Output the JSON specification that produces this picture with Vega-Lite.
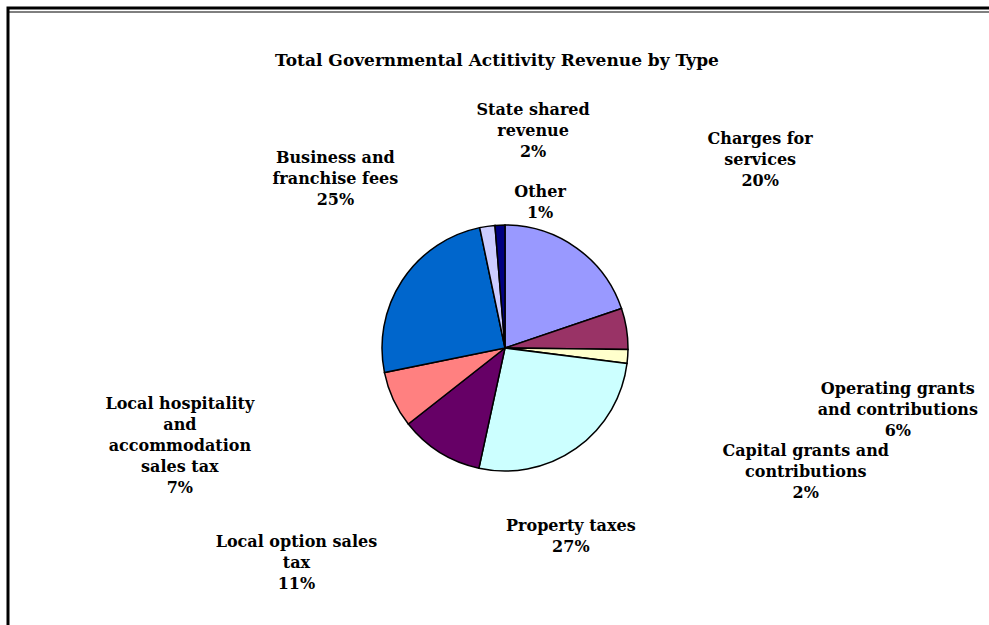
{
  "$schema": "https://vega.github.io/schema/vega-lite/v6.json",
  "width": 994,
  "height": 680,
  "autosize": {"type": "none"},
  "padding": {"left": 8, "top": 8, "right": -13, "bottom": -63},
  "background": "white",
  "view": {"stroke": "black", "strokeWidth": 3},
  "title": {
    "text": "Total Governmental  Actitivity Revenue by Type",
    "anchor": "middle",
    "frame": "group",
    "offset": -107,
    "dx": -8,
    "dy": 15,
    "font": "DejaVu Serif",
    "fontSize": 17,
    "fontWeight": "bold",
    "color": "black"
  },
  "resolve": {"scale": {"theta": "independent"}},
  "datasets": {
    "revenue": [
      {"order": 1, "category": "Charges for services", "value": 19.8, "label": ["Charges for", "services", "20%"]},
      {"order": 2, "category": "Operating grants and contributions", "value": 5.4, "label": ["Operating grants", "and contributions", "6%"]},
      {"order": 3, "category": "Capital grants and contributions", "value": 1.8, "label": ["Capital grants and", "contributions", "2%"]},
      {"order": 4, "category": "Property taxes", "value": 26.4, "label": ["Property taxes", "27%"]},
      {"order": 5, "category": "Local option sales tax", "value": 11.0, "label": ["Local option sales", "tax", "11%"]},
      {"order": 6, "category": "Local hospitality and accommodation sales tax", "value": 7.4, "label": ["Local hospitality", "and", "accommodation", "sales tax", "7%"]},
      {"order": 7, "category": "Business and franchise fees", "value": 24.9, "label": ["Business and", "franchise fees", "25%"]},
      {"order": 8, "category": "State shared revenue", "value": 2.0, "label": ["State shared", "revenue", "2%"]},
      {"order": 9, "category": "Other", "value": 1.3, "label": ["Other", "1%"]}
    ]
  },
  "layer": [
    {
      "data": {"values": [{}]},
      "mark": {"type": "rect", "fill": "transparent", "stroke": "black", "strokeWidth": 1, "xOffset": 4, "yOffset": 4, "x2Offset": -4, "y2Offset": -4},
      "encoding": {}
    },
    {
      "data": {"name": "revenue"},
      "mark": {"type": "arc", "radius": 123, "stroke": "black", "strokeWidth": 1.5},
      "encoding": {
        "theta": {"field": "value", "type": "quantitative", "stack": true},
        "order": {"field": "order", "type": "quantitative"},
        "color": {
          "field": "category",
          "type": "nominal",
          "legend": null,
          "scale": {
            "domain": ["Charges for services", "Operating grants and contributions", "Capital grants and contributions", "Property taxes", "Local option sales tax", "Local hospitality and accommodation sales tax", "Business and franchise fees", "State shared revenue", "Other"],
            "range": ["#9999FF", "#993366", "#FFFFCC", "#CCFFFF", "#660066", "#FF8080", "#0066CC", "#CCCCFF", "#000080"]
          }
        }
      }
    },
    {
      "data": {"name": "revenue"},
      "mark": {"type": "text", "radius": 330, "font": "DejaVu Serif", "fontSize": 16, "fontWeight": "bold", "lineHeight": 21, "align": "center", "baseline": "middle", "color": "black"},
      "encoding": {
        "theta": {"field": "value", "type": "quantitative", "stack": true, "scale": {"range": [0.2618, 6.5450]}},
        "order": {"field": "order", "type": "quantitative"},
        "text": {"condition": {"test": "indexof(['Charges for services', 'Local hospitality and accommodation sales tax'], datum.category) >= 0", "field": "label"}, "value": ""}
      }
    },
    {
      "data": {"name": "revenue"},
      "mark": {"type": "text", "radius": 395, "font": "DejaVu Serif", "fontSize": 16, "fontWeight": "bold", "lineHeight": 21, "align": "center", "baseline": "middle", "color": "black"},
      "encoding": {
        "theta": {"field": "value", "type": "quantitative", "stack": true, "scale": {"range": [0.2618, 6.5450]}},
        "order": {"field": "order", "type": "quantitative"},
        "text": {"condition": {"test": "datum.category === 'Operating grants and contributions'", "field": "label"}, "value": ""}
      }
    },
    {
      "data": {"name": "revenue"},
      "mark": {"type": "text", "radius": 318, "font": "DejaVu Serif", "fontSize": 16, "fontWeight": "bold", "lineHeight": 21, "align": "center", "baseline": "middle", "color": "black"},
      "encoding": {
        "theta": {"field": "value", "type": "quantitative", "stack": true, "scale": {"range": [0.2618, 6.5450]}},
        "order": {"field": "order", "type": "quantitative"},
        "text": {"condition": {"test": "datum.category === 'Capital grants and contributions'", "field": "label"}, "value": ""}
      }
    },
    {
      "data": {"name": "revenue"},
      "mark": {"type": "text", "radius": 190, "font": "DejaVu Serif", "fontSize": 16, "fontWeight": "bold", "lineHeight": 21, "align": "center", "baseline": "middle", "color": "black"},
      "encoding": {
        "theta": {"field": "value", "type": "quantitative", "stack": true, "scale": {"range": [0.2618, 6.5450]}},
        "order": {"field": "order", "type": "quantitative"},
        "text": {"condition": {"test": "datum.category === 'Property taxes'", "field": "label"}, "value": ""}
      }
    },
    {
      "data": {"name": "revenue"},
      "mark": {"type": "text", "radius": 285, "font": "DejaVu Serif", "fontSize": 16, "fontWeight": "bold", "lineHeight": 21, "align": "center", "baseline": "middle", "color": "black"},
      "encoding": {
        "theta": {"field": "value", "type": "quantitative", "stack": true, "scale": {"range": [0.2618, 6.5450]}},
        "order": {"field": "order", "type": "quantitative"},
        "text": {"condition": {"test": "datum.category === 'Local option sales tax'", "field": "label"}, "value": ""}
      }
    },
    {
      "data": {"name": "revenue"},
      "mark": {"type": "text", "radius": 255, "font": "DejaVu Serif", "fontSize": 16, "fontWeight": "bold", "lineHeight": 21, "align": "center", "baseline": "middle", "color": "black"},
      "encoding": {
        "theta": {"field": "value", "type": "quantitative", "stack": true, "scale": {"range": [0.2618, 6.5450]}},
        "order": {"field": "order", "type": "quantitative"},
        "text": {"condition": {"test": "datum.category === 'Business and franchise fees'", "field": "label"}, "value": ""}
      }
    },
    {
      "data": {"name": "revenue"},
      "mark": {"type": "text", "radius": 240, "font": "DejaVu Serif", "fontSize": 16, "fontWeight": "bold", "lineHeight": 21, "align": "center", "baseline": "middle", "color": "black"},
      "encoding": {
        "theta": {"field": "value", "type": "quantitative", "stack": true, "scale": {"range": [0.2618, 6.5450]}},
        "order": {"field": "order", "type": "quantitative"},
        "text": {"condition": {"test": "datum.category === 'State shared revenue'", "field": "label"}, "value": ""}
      }
    },
    {
      "data": {"name": "revenue"},
      "mark": {"type": "text", "radius": 160, "font": "DejaVu Serif", "fontSize": 16, "fontWeight": "bold", "lineHeight": 21, "align": "center", "baseline": "middle", "color": "black"},
      "encoding": {
        "theta": {"field": "value", "type": "quantitative", "stack": true, "scale": {"range": [0.2618, 6.5450]}},
        "order": {"field": "order", "type": "quantitative"},
        "text": {"condition": {"test": "datum.category === 'Other'", "field": "label"}, "value": ""}
      }
    }
  ]
}
